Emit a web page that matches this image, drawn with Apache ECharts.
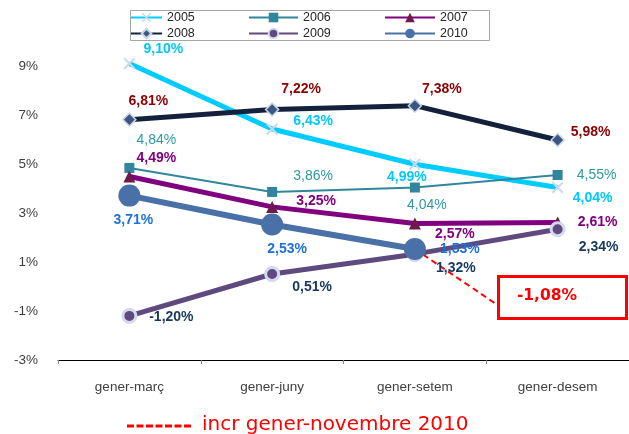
<!DOCTYPE html>
<html>
<head>
<meta charset="utf-8">
<script src="https://cdn.jsdelivr.net/npm/echarts@6/dist/echarts.min.js"></script>
<style>html,body{margin:0;padding:0;background:#fff}#c{width:629px;height:434px}</style>
</head>
<body>
<div id="c"></div>
<script>
// ---- data ----
const categories = ['gener-març', 'gener-juny', 'gener-setem', 'gener-desem'];
const v2005 = [9.10, 6.43, 4.99, 4.04];
const v2006 = [4.84, 3.86, 4.04, 4.55];
const v2007 = [4.49, 3.25, 2.57, 2.61];
const v2008 = [6.81, 7.22, 7.38, 5.98];
const v2009 = [-1.20, 0.51, 1.32, 2.34];
const v2010 = [3.71, 2.53, 1.53, '-'];
const yTicks = [-3, -1, 1, 3, 5, 7, 9];
const annotationValue = -1.08;
const annotationLabel = 'incr gener-novembre 2010';

// ---- styling (label offsets relative to point centre) ----
const off2005 = [[34,-14],[41,-8],[-8,13],[35,11]];
const off2006 = [[27,-28],[41,-16],[12,18],[39,0]];
const off2007 = [[27,-18],[44,-6],[40,11],[40,0]];
const off2008 = [[19,-19],[29,-20],[27,-17],[33,-8]];
const off2009 = [[42,1],[40,13],[41,14],[41,18]];
const off2010 = [[4,25],[15,25],[45,0],[0,0]];

const FONT = '"Liberation Sans", Arial, sans-serif';
const fmt = v => v.toFixed(2).replace('.', ',') + '%';

function mkData(vals, offs, labelColor, bold) {
  return vals.map((v, i) => ({
    value: v,
    label: {
      show: v !== '-',
      position: 'inside',
      offset: offs[i],
      color: labelColor,
      fontWeight: bold ? 'bold' : 'normal',
      fontSize: 14,
      fontFamily: FONT,
      formatter: p => fmt(p.value)
    }
  }));
}

const xPath = 'path://M0,1.2 L1.2,0 L5,3.8 L8.8,0 L10,1.2 L6.2,5 L10,8.8 L8.8,10 L5,6.2 L1.2,10 L0,8.8 L3.8,5Z';

const series = [
  { name: '2005', type: 'line', clip: false, z: 3,
    data: mkData(v2005, off2005, '#00C8F8', true),
    lineStyle: { color: '#00CCFF', width: 5 },
    itemStyle: { color: '#C9DAF0' },
    symbol: xPath, symbolSize: 12 },
  { name: '2006', type: 'line', clip: false, z: 3,
    data: mkData(v2006, off2006, '#2E9A9E', false),
    lineStyle: { color: '#31859C', width: 2 },
    itemStyle: { color: '#31859C' },
    symbol: 'rect', symbolSize: 10 },
  { name: '2007', type: 'line', clip: false, z: 4,
    data: mkData(v2007, off2007, '#800080', true),
    lineStyle: { color: '#800080', width: 5 },
    itemStyle: { color: '#6E1A4A' },
    symbol: 'triangle', symbolSize: 12 },
  { name: '2008', type: 'line', clip: false, z: 3,
    data: mkData(v2008, off2008, '#8B0000', true),
    lineStyle: { color: '#13213D', width: 5 },
    itemStyle: { color: '#3B5680', borderColor: '#C8D4E8', borderWidth: 1.5 },
    symbol: 'diamond', symbolSize: 13 },
  { name: '2009', type: 'line', clip: false, z: 4,
    data: mkData(v2009, off2009, '#17375E', true),
    lineStyle: { color: '#5E4A7E', width: 5 },
    itemStyle: { color: '#5E4A7E', borderColor: '#D5D8EE', borderWidth: 3 },
    symbol: 'circle', symbolSize: 13 },
  { name: '2010', type: 'line', clip: false, z: 5,
    data: mkData(v2010, off2010, '#1F70D8', true),
    lineStyle: { color: '#4A70A8', width: 6 },
    itemStyle: { color: '#4A70A8' },
    symbol: 'circle', symbolSize: 22 }
];

const legendBase = {
  orient: 'vertical', top: 11, itemHeight: 12, itemGap: 3, padding: 0,
  textStyle: { fontSize: 12.5, color: '#262626', fontFamily: FONT, lineHeight: 13 },
  selectedMode: false
};

const chart = echarts.init(document.getElementById('c'), null, { renderer: 'canvas' });
chart.setOption({
  animation: false,
  backgroundColor: '#fff',
  grid: { left: 58, top: 66, width: 576, height: 294, containLabel: false },
  legend: [
    Object.assign({}, legendBase, { data: ['2005', '2008'], left: 130, itemWidth: 31 }),
    Object.assign({}, legendBase, { data: ['2006', '2009'], left: 248, itemWidth: 49 }),
    Object.assign({}, legendBase, { data: ['2007', '2010'], left: 384, itemWidth: 50 })
  ],
  xAxis: {
    type: 'category', data: categories,
    axisLine: { show: true, onZero: false, lineStyle: { color: '#000', width: 1 } },
    axisTick: { show: true, length: 4, lineStyle: { color: '#888' } },
    axisLabel: { margin: 20, fontSize: 13.5, color: '#404040', fontFamily: FONT },
    splitLine: { show: false }
  },
  yAxis: {
    type: 'value', min: -3, max: 9,
    axisLine: { show: false }, axisTick: { show: false },
    splitLine: { show: false },
    axisLabel: { customValues: yTicks, margin: 20, fontSize: 13.5, color: '#404040',
      fontFamily: FONT, formatter: v => v + '%' }
  },
  series: series
});

// annotation (dashed line from the last 2010 value to the box)
const start = chart.convertToPixel({ xAxisIndex: 0, yAxisIndex: 0 }, [categories[2], v2010[2]]);
chart.setOption({
  graphic: [
    { type: 'rect', z: 0, shape: { x: 130.5, y: 10.5, width: 359, height: 30 },
      style: { fill: 'none', stroke: '#A6A6A6', lineWidth: 1 } },
    { type: 'line', z: 1, shape: { x1: start[0], y1: start[1], x2: 496, y2: 304 },
      style: { stroke: '#FF0000', lineWidth: 2, lineDash: [6, 4] } },
    { type: 'rect', z: 10, shape: { x: 498.5, y: 276.5, width: 128, height: 42 },
      style: { fill: '#fff', stroke: '#FF0000', lineWidth: 3 } },
    { type: 'text', z: 11, style: { x: 547, y: 296, text: fmt(annotationValue),
      fill: '#FF0000', font: 'bold 15.5px "DejaVu Sans", sans-serif', textAlign: 'center', textVerticalAlign: 'middle' } },
    { type: 'line', z: 10, shape: { x1: 127, y1: 426, x2: 191, y2: 426 },
      style: { stroke: '#FF0000', lineWidth: 3, lineDash: [7, 2.5] } },
    { type: 'text', z: 10, style: { x: 202, y: 425, text: annotationLabel,
      fill: '#FF0000', font: '20px "DejaVu Sans", sans-serif', textAlign: 'left', textVerticalAlign: 'middle' } }
  ]
});
</script>
</body>
</html>
